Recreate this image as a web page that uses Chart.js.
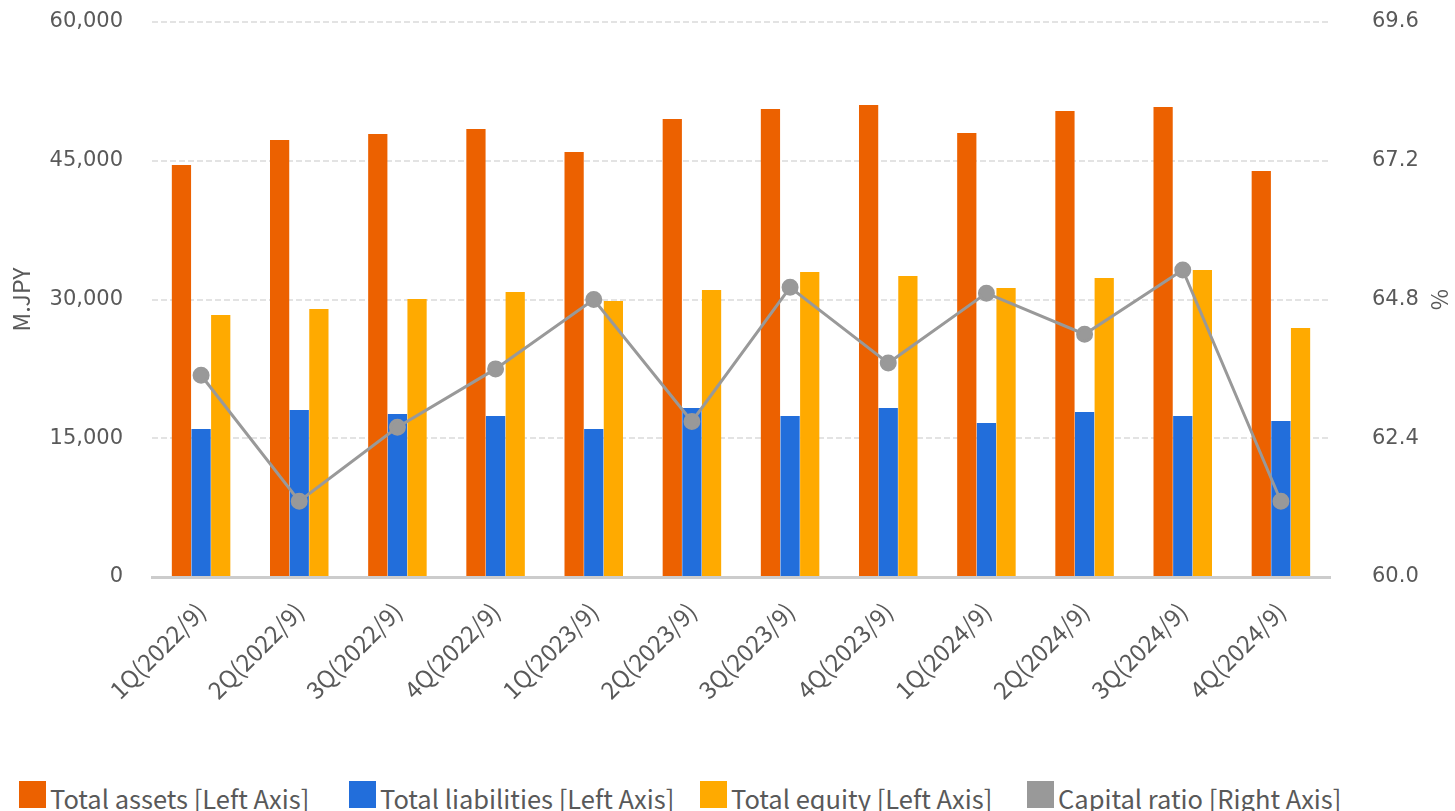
<!DOCTYPE html>
<html>
<head>
<meta charset="utf-8">
<script src="https://cdn.jsdelivr.net/npm/chart.js@4.4.1/dist/chart.umd.min.js"></script>
<style>
  html, body { margin: 0; padding: 0; background: #fff; overflow: hidden; }
  #wrap { position: relative; width: 1455px; height: 811px; }
  #legend {
    position: absolute; left: 0; top: 781px; width: 1455px; height: 40px;
    font-family: "Noto Sans CJK JP", "Noto Sans", sans-serif;
    font-size: 25.5px; line-height: 27px; color: #595959; white-space: nowrap;
  }
  #legend .item { position: absolute; top: 0; display: flex; align-items: flex-start; }
  #legend .box { width: 27px; height: 27px; margin-right: 4px; flex: none; }
  #legend .txt { position: relative; top: 3px; }
</style>
</head>
<body>
<div id="wrap">
  <canvas id="chart" width="1455" height="760"></canvas>
  <div id="legend"></div>
</div>
<script>
// 四半期ラベル
var quarters = ['1Q(2022/9)', '2Q(2022/9)', '3Q(2022/9)', '4Q(2022/9)',
                '1Q(2023/9)', '2Q(2023/9)', '3Q(2023/9)', '4Q(2023/9)',
                '1Q(2024/9)', '2Q(2024/9)', '3Q(2024/9)', '4Q(2024/9)'];

// 単位: M.JPY
var totalAssets = [44540, 47240, 47890, 48430, 45950, 49510, 50590, 51030, 48000, 50380, 50810, 43890];
var totalLiabilities = [16000, 18050, 17620, 17400, 16000, 18270, 17400, 18270, 16650, 17840, 17400, 16860];
var totalEquity = [28320, 28970, 30050, 30810, 29840, 31030, 32970, 32540, 31240, 32320, 33190, 26920];

// 単位: %
var capitalRatio = [63.49, 61.31, 62.59, 63.60, 64.80, 62.69, 65.01, 63.70, 64.91, 64.20, 65.31, 61.31];

var leftTicks = [0, 15000, 30000, 45000, 60000];
var rightTicks = [60.0, 62.4, 64.8, 67.2, 69.6];

var seriesNames = ['Total assets [Left Axis]', 'Total liabilities [Left Axis]',
                   'Total equity [Left Axis]', 'Capital ratio [Right Axis]'];
var seriesColors = ['#EC6100', '#226EDB', '#FFAA00', '#999999'];

var JP = '"Noto Sans CJK JP", "Noto Sans", sans-serif';
var NUM = '"DejaVu Sans", sans-serif';
var TEXT = '#595959';
var CLEAR = 'rgba(0,0,0,0)';

var ctx = document.getElementById('chart').getContext('2d');
var chart = new Chart(ctx, {
  type: 'bar',
  data: {
    labels: quarters,
    datasets: [
      {
        type: 'line', label: seriesNames[3], data: capitalRatio, yAxisID: 'y1',
        borderColor: seriesColors[3], backgroundColor: seriesColors[3],
        borderWidth: 3, pointRadius: 7, pointHoverRadius: 7,
        tension: 0, order: 0
      },
      { label: seriesNames[0], data: totalAssets, backgroundColor: seriesColors[0], yAxisID: 'y', order: 1 },
      { label: seriesNames[1], data: totalLiabilities, backgroundColor: seriesColors[1], yAxisID: 'y', order: 1 },
      { label: seriesNames[2], data: totalEquity, backgroundColor: seriesColors[2], yAxisID: 'y', order: 1 }
    ]
  },
  options: {
    responsive: false,
    animation: false,
    datasets: { bar: { categoryPercentage: 0.6, barPercentage: 0.98 } },
    layout: { autoPadding: false, padding: { top: 22, left: 0, right: 0, bottom: 0 } },
    plugins: { legend: { display: false }, tooltip: { enabled: false } },
    scales: {
      x: {
        grid: { display: false, drawTicks: false },
        border: { display: true, color: '#CCCCCC', width: 3 },
        ticks: { color: TEXT, font: { family: JP, size: 24 }, minRotation: 45, maxRotation: 45, padding: 20 },
        afterFit: function(s) { s.height = 183; }
      },
      y: {
        position: 'left', min: 0, max: 60000,
        afterBuildTicks: function(s) { s.ticks = leftTicks.map(function(v) { return { value: v }; }); },
        grid: { color: '#E3E3E3', lineWidth: 2, drawTicks: true, tickLength: 27, tickColor: CLEAR },
        border: { display: false, dash: [6, 3] },
        ticks: {
          color: TEXT, font: { family: NUM, size: 21 }, padding: 2,
          callback: function(v) { return v.toLocaleString('en-US'); }
        },
        title: { display: true, text: 'M.JPY', color: TEXT, font: { family: JP, size: 23 }, padding: { top: 7 } },
        afterFit: function(s) { s.width = 152; }
      },
      y1: {
        position: 'right', min: 60, max: 69.6,
        afterBuildTicks: function(s) { s.ticks = rightTicks.map(function(v) { return { value: v }; }); },
        grid: { display: true, color: CLEAR, drawOnChartArea: false, drawTicks: true, tickLength: 40, tickColor: CLEAR },
        border: { display: false },
        ticks: {
          color: TEXT, font: { family: NUM, size: 21 }, padding: 2,
          callback: function(v) { return Number(v).toFixed(1); }
        },
        title: { display: true, text: '%', color: TEXT, font: { family: JP, size: 23 }, padding: { top: 1 } },
        afterFit: function(s) { s.width = 125; }
      }
    }
  }
});

// 凡例 (位置は参照画像に合わせる)
var legendLeft = [19, 349, 700, 1027];
var legendEl = document.getElementById('legend');
[0, 1, 2, 3].forEach(function(i) {
  var item = document.createElement('div');
  item.className = 'item';
  item.style.left = legendLeft[i] + 'px';
  var box = document.createElement('span');
  box.className = 'box';
  box.style.background = seriesColors[i];
  var txt = document.createElement('span');
  txt.className = 'txt';
  txt.textContent = seriesNames[i];
  item.appendChild(box);
  item.appendChild(txt);
  legendEl.appendChild(item);
});
</script>
</body>
</html>
